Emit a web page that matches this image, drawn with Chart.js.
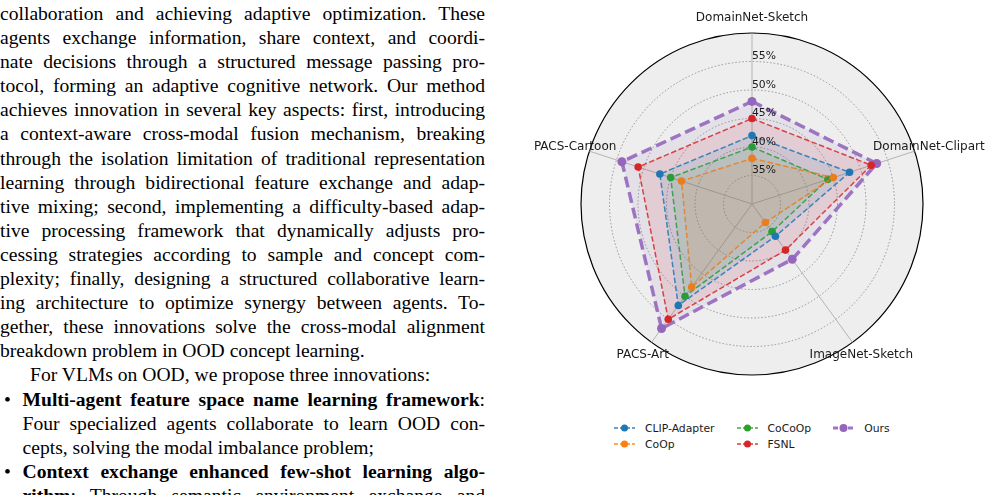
<!DOCTYPE html>
<html>
<head>
<meta charset="utf-8">
<script src="https://cdn.jsdelivr.net/npm/chart.js@4.4.1/dist/chart.umd.min.js"></script>
<style>
html,body{margin:0;padding:0;background:#fff;width:992px;height:495px;overflow:hidden;}
#text{position:absolute;left:0;top:2px;width:485px;font-family:'Liberation Serif','Times New Roman',serif;font-size:19.6px;line-height:24.1px;color:#000;}
#text div{text-align:justify;text-align-last:justify;}
#text div.l{text-align:left;text-align-last:left;}
#text .ind{padding-left:30px;}
#text .sub{padding-left:22.5px;}
#text .bul{position:relative;padding-left:22.5px;}
#text .bul::before{content:'\2022';position:absolute;left:4px;top:0;}
#wrap{position:absolute;left:500px;top:0;width:492px;height:420px;}
#legend{position:absolute;left:614px;top:420px;display:grid;grid-auto-flow:column;grid-template-rows:16px 16px;column-gap:22px;font-family:'DejaVu Sans',sans-serif;font-size:10.8px;color:#1a1a1a;}
#legend .it{display:flex;align-items:center;height:16px;white-space:nowrap;}
#legend svg{margin-right:10px;}
</style>
</head>
<body>
<div id="text">
<div>collaboration and achieving adaptive optimization. These</div>
<div>agents exchange information, share context, and coordi-</div>
<div>nate decisions through a structured message passing pro-</div>
<div>tocol, forming an adaptive cognitive network. Our method</div>
<div>achieves innovation in several key aspects: first, introducing</div>
<div>a context-aware cross-modal fusion mechanism, breaking</div>
<div>through the isolation limitation of traditional representation</div>
<div>learning through bidirectional feature exchange and adap-</div>
<div>tive mixing; second, implementing a difficulty-based adap-</div>
<div>tive processing framework that dynamically adjusts pro-</div>
<div>cessing strategies according to sample and concept com-</div>
<div>plexity; finally, designing a structured collaborative learn-</div>
<div>ing architecture to optimize synergy between agents. To-</div>
<div>gether, these innovations solve the cross-modal alignment</div>
<div class="l">breakdown problem in OOD concept learning.</div>
<div class="l ind">For VLMs on OOD, we propose three innovations:</div>
<div class="bul"><b>Multi-agent feature space name learning framework</b>:</div>
<div class="sub">Four specialized agents collaborate to learn OOD con-</div>
<div class="l sub">cepts, solving the modal imbalance problem;</div>
<div class="bul"><b>Context exchange enhanced few-shot learning algo-</b></div>
<div class="sub"><b>rithm</b>: Through semantic environment exchange and</div>
</div>
<div id="wrap"><canvas id="c" width="492" height="420"></canvas></div>
<div id="legend"></div>
<script>
const categories = ['DomainNet-Sketch', 'DomainNet-Clipart', 'ImageNet-Sketch', 'PACS-Art', 'PACS-Cartoon'];
const clipAdapter = [42, 48, 37, 52, 47];
const coop        = [38, 45, 34, 48, 43];
const cocoop      = [40, 44, 36, 50, 45];
const fsnl        = [45, 52, 40, 55, 51];
const ours        = [48, 53, 42, 57, 54];
const seriesNames = ['CLIP-Adapter', 'CoOp', 'CoCoOp', 'FSNL', 'Ours'];
const seriesValues = [clipAdapter, coop, cocoop, fsnl, ours];
const seriesColors = ['#1f77b4', '#ff7f0e', '#2ca02c', '#d62728', '#9467bd'];
const tickValues = [35, 40, 45, 50, 55];
const tickLabels = ['35%', '40%', '45%', '50%', '55%'];
const rMin = 30, rMax = 60;

function rgba(hex, a) {
  const n = parseInt(hex.slice(1), 16);
  return `rgba(${(n >> 16) & 255},${(n >> 8) & 255},${n & 255},${a})`;
}

const datasets = seriesNames.map((name, i) => {
  const isOurs = name === 'Ours';
  return {
    label: name,
    data: seriesValues[i],
    borderColor: rgba(seriesColors[i], isOurs ? 0.9 : 0.85),
    backgroundColor: rgba(seriesColors[i], 0.1),
    pointBackgroundColor: seriesColors[i],
    pointBorderColor: seriesColors[i],
    pointBorderWidth: 0,
    pointRadius: isOurs ? 4.5 : 3.8,
    borderWidth: isOurs ? 3.5 : 1.5,
    borderDash: isOurs ? [11, 5] : [5.5, 2.5],
    fill: true,
    tension: 0
  };
});

const labelPlugin = {
  id: 'mplLabels',
  afterDatasetsDraw(chart) {
    const s = chart.scales.r;
    const ctx = chart.ctx;
    ctx.save();
    ctx.fillStyle = '#1a1a1a';
    ctx.textBaseline = 'middle';
    ctx.font = '10.8px "DejaVu Sans"';
    ctx.textAlign = 'left';
    tickValues.forEach((v, i) => {
      const d = s.getDistanceFromCenterForValue(v);
      ctx.fillText(tickLabels[i], s.xCenter, s.yCenter - d - 5);
    });
    ctx.font = '12px "DejaVu Sans"';
    ctx.textAlign = 'center';
    categories.forEach((lab, i) => {
      const p = s.getPointPosition(i, s.drawingArea + 15);
      ctx.fillText(lab, p.x, p.y);
    });
    ctx.restore();
  }
};

new Chart(document.getElementById('c'), {
  type: 'radar',
  data: { labels: categories, datasets: datasets },
  options: {
    responsive: false,
    animation: false,
    layout: { padding: { left: 81, right: 69, top: 33, bottom: 45 } },
    plugins: { legend: { display: false }, tooltip: { enabled: false } },
    elements: { line: { tension: 0 } },
    scales: {
      r: {
        min: rMin,
        max: rMax,
        beginAtZero: false,
        backgroundColor: '#eeeeee',
        ticks: { stepSize: 5, display: false, showLabelBackdrop: false },
        pointLabels: { display: false },
        grid: {
          circular: true,
          color: c => (c.tick && c.tick.value === rMax) ? '#000000' : '#8c8c8c',
          lineWidth: c => (c.tick && c.tick.value === rMax) ? 1.2 : 0.9
        },
        border: {
          dash: c => (c.tick && c.tick.value === rMax) ? [] : [1.5, 2]
        },
        angleLines: { color: '#b4b4b4', lineWidth: 1 }
      }
    }
  },
  plugins: [labelPlugin]
});

// legend (matplotlib-style, 3 columns filled column-wise)
const legend = document.getElementById('legend');
seriesNames.forEach((name, i) => {
  const isOurs = name === 'Ours';
  const item = document.createElement('div');
  item.className = 'it';
  const sw = isOurs ? 3 : 1.5;
  const dash = isOurs ? '5 2.5' : '4 2';
  item.innerHTML = `<svg width="21" height="10" viewBox="0 0 21 10"><line x1="0" y1="5" x2="21" y2="5" stroke="${rgba(seriesColors[i], 0.9)}" stroke-width="${sw}" stroke-dasharray="${dash}"/><circle cx="10.5" cy="5" r="${isOurs ? 4 : 3.5}" fill="${seriesColors[i]}"/></svg><span>${name}</span>`;
  legend.appendChild(item);
});
</script>
</body>
</html>
